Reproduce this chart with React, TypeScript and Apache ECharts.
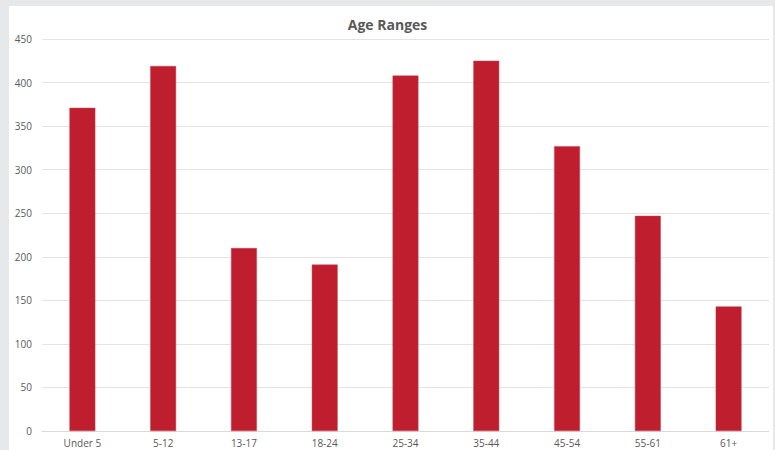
import React, { useEffect, useRef } from "react";
import * as echarts from "echarts";

const categories = ["Under 5", "5-12", "13-17", "18-24", "25-34", "35-44", "45-54", "55-61", "61+"];
const values = [371, 419, 210, 191, 408, 425, 327, 247, 143];
const title = "Age Ranges";

export default function App() {
  const ref = useRef<HTMLDivElement>(null);
  useEffect(() => {
    if (!ref.current) return;
    const chart = echarts.init(ref.current, null, { renderer: "svg" });
    chart.setOption({
      animation: false,
      backgroundColor: "#e7e8ea",
      textStyle: { fontFamily: "Open Sans" },
      graphic: [
        {
          type: "rect",
          z: -10,
          silent: true,
          shape: { x: 9, y: 6, width: 764, height: 450 },
          style: { fill: "#ffffff" },
        },
      ],
      title: {
        text: title,
        left: "center",
        top: 12,
        textStyle: { fontFamily: "Open Sans", fontSize: 14, fontWeight: "bold", color: "#595959" },
      },
      grid: { left: 42, right: 6, top: 39, bottom: 19, containLabel: false },
      xAxis: {
        type: "category",
        data: categories,
        axisLine: { show: true, lineStyle: { color: "#d9d9d9", width: 1 } },
        axisTick: { show: false },
        axisLabel: { color: "#595959", fontSize: 10, fontFamily: "Open Sans", margin: 7 },
      },
      yAxis: {
        type: "value",
        min: 0,
        max: 450,
        interval: 50,
        axisLine: { show: false },
        axisTick: { show: false },
        splitLine: { lineStyle: { color: "#e3e3e3", width: 1 } },
        axisLabel: { color: "#595959", fontSize: 10, fontFamily: "Open Sans", margin: 10 },
      },
      series: [
        {
          type: "bar",
          data: values,
          barWidth: "32%",
          itemStyle: { color: "#be1e2d", borderColor: "#c8404c", borderWidth: 0.5 },
        },
      ],
    });
    return () => chart.dispose();
  }, []);
  return (
    <div
      ref={ref}
      style={{ position: "fixed", left: 0, top: 0, width: 775, height: 450 }}
    />
  );
}
